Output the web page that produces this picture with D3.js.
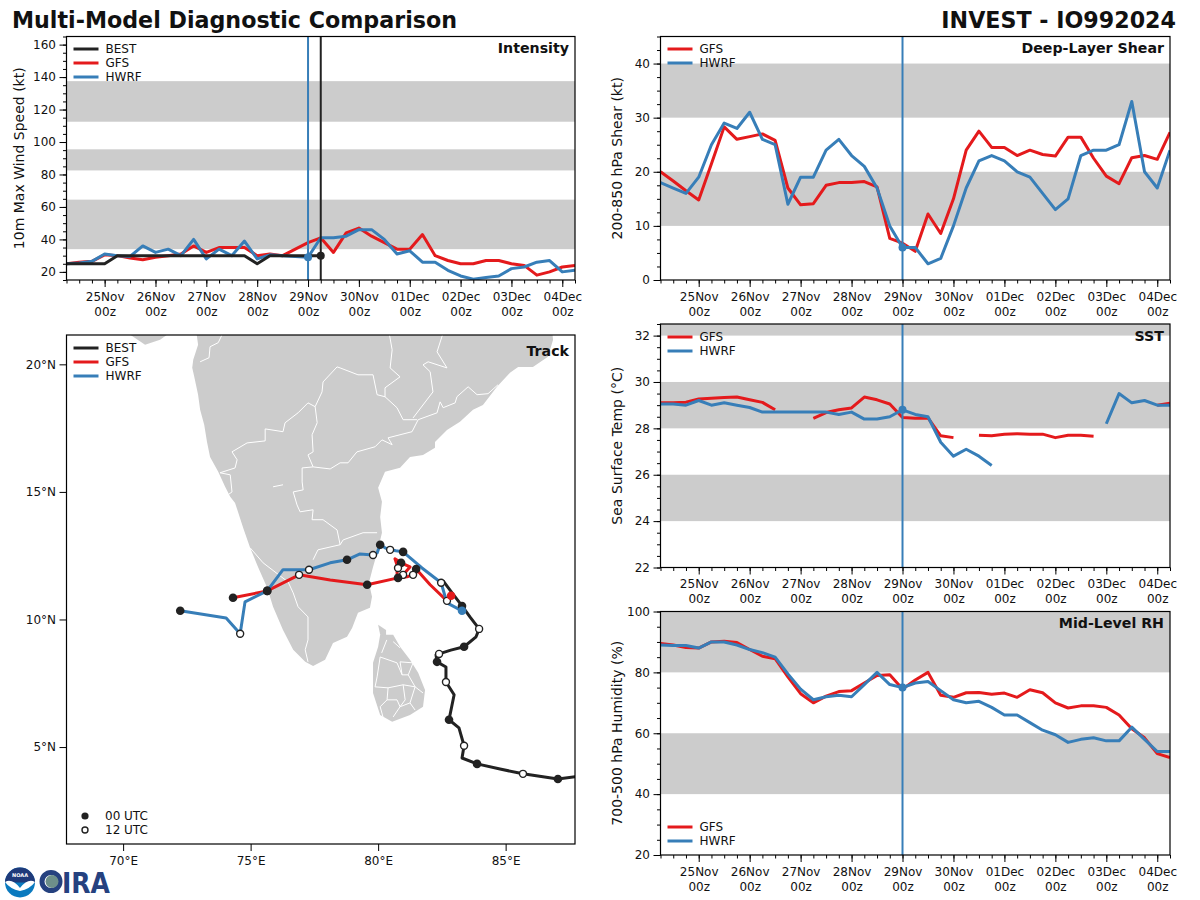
<!DOCTYPE html>
<html><head><meta charset="utf-8">
<script src="https://cdn.jsdelivr.net/npm/d3@7"></script>
<style>
html,body{margin:0;padding:0;background:#fff}
svg{display:block}
text{font-family:"DejaVu Sans",sans-serif;fill:#111}
.tick text{font-size:12px}
</style></head><body><svg id="c" width="1200" height="900"></svg>
<script>
const titleLeft="Multi-Model Diagnostic Comparison", titleRight="INVEST - IO992024";
const dayLabels=["25Nov","26Nov","27Nov","28Nov","29Nov","30Nov","01Dec","02Dec","03Dec","04Dec"];
const t0=Date.UTC(2024,10,24,6), H6=6*3600e3;
const bestWind=[25,25,25,25,30,30,30,30,30,30,30,30,30,30,30,25,30,30,30,30,30];
const gfsWind=[25,26,26.5,30.5,30,28.5,27.5,29,30,31,36,32,35,35,35,30,31,30,34,38,41,32,44,47,42,38,34,34,43,30,27,25,25,27,27,25,24,18,20,23,24];
const hwrfWind=[25,25.5,26.5,31,30,29.5,36,32,34,30,40,28,34,30,39,28,30.5,30,29.5,29,41,41,42,46,46,40,31,33,26,26,21,17.5,15.5,16.5,17.5,22,23,26,27,20,21];
const gfsShear=[20,18.3,16.5,14.8,21.5,28.3,26,26.5,27,25.8,17,13.9,14.1,17.5,18,18,18.2,17.2,7.7,6.8,5.3,12.2,8.6,15,24,27.5,24.5,24.5,23,24,23.2,22.9,26.4,26.4,22.5,19.2,17.8,22.6,23,22.3,27.3];
const hwrfShear=[18,17,16,19,25,29,28,31,26,25,14,19,19,24,26,23,21,17,10,6,6,3,4,10,17,22,23,22,20,19,16,13,15,23,24,24,25,33,20,17,24];
const gfsSst=[29.1,29.1,29.13,29.27,29.3,29.33,29.35,29.23,29.12,28.8,null,null,28.43,28.68,28.8,28.88,29.35,29.23,29.05,28.47,28.44,28.45,27.68,27.6,null,27.7,27.68,27.75,27.77,27.75,27.75,27.6,27.7,27.7,27.66,null,null,null,null,29.0,29.08];
const hwrfSst=[29.05,29.05,29.0,29.2,29.0,29.1,29.0,28.9,28.7,28.7,28.7,28.7,28.7,28.7,28.6,28.7,28.4,28.4,28.5,28.8,28.6,28.5,27.4,26.8,27.1,26.8,26.4,null,null,null,null,null,null,null,null,28.2,29.5,29.1,29.2,29.0,29.0];
const gfsRh=[89.5,89,88.2,88,90,90.2,89.8,87.5,85.3,84.5,78.5,73,70,72.2,73.7,74,76.5,79,79.2,74.5,77.5,80,72.5,71.8,73.3,73.4,72.8,73.2,71.8,74.3,73.3,70,68.3,69,69,68.5,66,61.5,58.5,53.3,52];
const hwrfRh=[89,88.8,88.8,88,90,90,89,87.5,86.5,85,79.5,74.5,71,72,72.5,72,76,80,76,75,76.5,77,74,71,70,70.5,68.5,66,66,63.5,61,59.5,57,58,58.5,57.5,57.5,62,58,54,54];
const windBands=[[34,64.5],[82.5,95.5],[112.5,137.5]], shearBands=[[10,20],[30,40]], sstBands=[[24,26],[28,30],[32,33]], rhBands=[[40,60],[80,100]];

// track: [lon, lat, utc] with utc 0 = 00 UTC marker, 12 = 12 UTC marker, null = none
const bestTrack=[[88.31,3.91,null],[87.05,3.75,0],[85.68,3.95,12],[84.78,4.14,null],[83.88,4.34,0],[83.29,4.57,null],[83.37,5.05,12],[83.17,5.75,null],[82.78,6.07,0],[82.98,7.05,null],[82.66,7.55,12],[82.66,8.14,null],[82.31,8.34,0],[82.27,8.61,null],[82.39,8.65,12],[82.85,8.8,null],[83.37,8.93,0],[83.84,9.32,null],[83.96,9.63,12],[83.60,10.10,null],[83.29,10.53,0],[82.90,11.04,null],[82.55,11.51,null]];
const gfsTrack=[[82.70,10.73,12],[82.04,11.36,null],[81.49,11.98,0],[81.53,11.87,null],[81.37,11.75,12],[81.13,11.67,null],[80.78,11.63,null],[80.86,11.71,null],[80.98,11.75,12],[81.25,12.06,null],[80.90,12.22,0],[80.66,12.38,null],[80.78,12.02,12],[80.74,11.83,null],[80.78,11.63,0],[79.57,11.36,0],[78.12,11.55,null],[76.90,11.75,12],[75.65,11.12,0],[74.31,10.85,0]];
const gfsStart=[82.86,10.93];
const hwrfTrack=[[83.29,10.34,null],[82.70,10.65,null],[82.47,11.44,12],[81.72,12.02,null],[80.98,12.65,0],[80.70,12.69,null],[80.47,12.73,12],[80.27,12.81,null],[80.08,12.93,0],[79.96,12.61,null],[79.80,12.53,12],[79.29,12.57,null],[78.78,12.34,0],[78.12,12.22,null],[77.29,11.95,12],[76.27,11.95,null],[75.65,11.12,0],[74.78,10.69,null],[74.59,9.44,12],[74.04,10.06,null],[72.24,10.34,0]];

const landIndia=[[72.86,21.35],[72.94,20.77],[72.75,20.18],[72.71,19.87],[72.79,19.51],[72.94,18.81],[73.02,18.22],[73.18,17.63],[73.29,16.96],[73.41,16.37],[73.73,15.79],[74.00,15.20],[74.20,14.81],[74.39,14.57],[74.71,13.59],[74.98,12.81],[75.29,12.06],[75.65,11.24],[75.88,10.50],[76.27,9.59],[76.67,8.81],[77.14,8.34],[77.45,8.18],[77.92,8.42],[78.23,9.08],[78.78,9.32],[78.98,9.67],[79.21,10.26],[79.68,10.46],[79.76,10.89],[79.64,11.44],[79.80,12.06],[79.96,12.61],[80.15,13.40],[80.08,14.02],[80.15,14.61],[80.00,15.16],[80.27,15.79],[80.86,15.95],[81.25,16.37],[81.76,16.45],[82.23,16.73],[82.23,16.96],[82.70,17.43],[83.21,17.75],[83.72,18.22],[84.11,18.41],[84.66,19.12],[85.17,19.67],[85.49,19.90],[86.07,19.90],[86.66,20.30],[86.86,20.96],[86.82,21.35]];
const landGujarat=[[70.08,21.3],[70.28,21.16],[70.86,20.77],[71.45,20.96],[71.92,21.3]];
const landLanka=[[80.08,9.40],[80.59,9.40],[80.86,8.93],[81.25,8.42],[81.57,7.91],[81.84,7.24],[81.76,6.58],[81.25,6.26],[80.55,5.99],[80.08,6.26],[79.80,7.12],[79.80,8.30],[80.00,8.93]];
const landJaffna=[[80.00,9.79],[80.31,9.59],[80.31,9.36],[80.08,9.40]];
const borders=[
[[73.88,21.16],[73.73,20.85],[73.41,20.69],[73.37,20.26],[73.02,20.10]],
[[73.80,15.75],[74.39,15.94],[74.47,16.26],[74.27,16.57],[74.86,16.92],[75.57,17.00],[75.57,17.47],[76.27,17.36],[76.35,17.71],[76.86,18.10],[77.25,18.49],[77.53,18.34]],
[[73.80,15.75],[74.20,15.67],[74.27,15.00],[74.12,14.89]],
[[77.53,18.34],[77.80,18.92],[77.84,19.31],[78.39,19.90],[78.51,19.86],[79.21,19.59],[79.80,19.59],[79.96,18.81],[80.27,18.73],[80.74,18.30],[80.98,17.83],[81.53,17.83]],
[[77.53,18.34],[77.61,17.71],[77.41,17.24],[77.45,16.57],[77.25,16.45],[77.45,15.98]],
[[77.02,15.94],[77.45,15.98],[78.12,15.90],[78.51,16.14],[78.82,16.14],[79.17,16.57],[79.88,16.77],[80.15,17.04],[80.55,16.85],[80.39,17.12],[81.33,17.36],[81.57,17.83],[82.31,18.10],[82.43,18.53],[82.55,18.30],[83.02,18.49],[83.09,18.73],[83.53,19.12],[83.88,18.81],[84.31,18.85],[84.70,19.20]],
[[80.27,18.73],[80.27,19.08],[80.86,19.51],[80.47,19.86],[80.55,20.57],[80.43,21.24]],
[[81.37,17.90],[82.15,18.92],[82.04,19.71],[81.76,19.98],[81.96,20.10],[82.70,19.86],[82.31,20.49],[82.55,21.24]],
[[77.02,15.94],[77.02,15.39],[77.06,15.08],[76.67,15.00],[76.82,14.49],[76.94,14.22],[77.45,14.30],[77.41,13.91],[77.84,13.91],[78.39,13.51],[78.51,12.93],[78.63,13.12],[79.41,13.40],[79.96,13.40]],
[[78.51,12.93],[77.64,12.73],[77.45,12.34]],
[[74.98,12.81],[75.49,12.22],[76.47,11.47],[76.67,11.04],[76.86,10.50],[77.25,10.10],[77.25,9.20],[77.14,8.81],[77.25,8.34]],
[[75.88,15.20],[76.27,15.28]],
[[80.34,9.20],[80.14,8.69]],[[80.59,9.13],[80.86,8.89]],
[[80.74,8.30],[80.08,8.53],[79.96,7.75],[79.88,7.36]],
[[80.74,8.30],[80.94,7.83],[80.86,8.34],[81.37,8.30],[81.18,7.83],[80.94,7.83]],
[[79.88,7.36],[80.39,7.32],[80.35,6.85],[80.08,6.58],[80.19,6.18]],
[[80.39,7.32],[80.98,7.44],[81.45,7.36],[81.25,6.73],[80.86,6.58],[80.59,6.18]],
[[80.86,6.58],[80.74,6.85],[80.35,6.85]],
[[81.18,7.83],[81.45,7.36],[81.76,7.12]],
[[80.98,7.44],[81.06,6.85],[80.86,6.58]],
[[81.25,6.73],[81.45,6.45]]
];
const RED="#e41a1c", BLUE="#377eb8", BLK="#222222", BAND="#cccccc";

const svg=d3.select("#c");
const nowT=t0+19*H6, bestEndT=t0+20*H6;
const dayTicks=d3.range(10).map(i=>t0+3*H6+i*4*H6);
const minorTicks=d3.range(41).map(i=>t0+i*H6);
const fmtDay=d3.scaleOrdinal().domain(dayTicks).range(dayLabels);

function legend(g,x,y0,items,dy=14){
  items.forEach((it,i)=>{
    const y=y0+i*dy;
    g.append("line").attr("x1",x+7).attr("x2",x+32).attr("y1",y).attr("y2",y).attr("stroke",it[1]).attr("stroke-width",3);
    g.append("text").attr("x",x+39).attr("y",y+4).attr("font-size",12).text(it[0]);
  });
}
let clipN=0;
function panel(o){
  const {l,r,t,b,domain,major,minor,bands,ylabel,name,series,lines,legendY,labelX}=o;
  const x=d3.scaleUtc().domain([t0,t0+40*H6]).range([l,r]);
  const y=d3.scaleLinear().domain(domain).range([b,t]);
  const g=svg.append("g");
  const id="clip"+(clipN++);
  g.append("clipPath").attr("id",id).append("rect").attr("x",l).attr("y",t).attr("width",r-l).attr("height",b-t);
  const body=g.append("g").attr("clip-path",`url(#${id})`);
  body.selectAll("rect.band").data(bands).join("rect").attr("class","band")
    .attr("x",l).attr("width",r-l).attr("y",d=>y(d[1])).attr("height",d=>y(d[0])-y(d[1])).attr("fill",BAND);
  const line=d3.line().defined(d=>d!=null).x((d,i)=>x(t0+i*H6)).y(d=>y(d));
  series.forEach(s=>{
    body.append("path").attr("d",line(s.v)).attr("fill","none").attr("stroke",s.c).attr("stroke-width",3).attr("stroke-linejoin","round");
  });
  lines.forEach(s=>{
    body.append("line").attr("x1",x(s.t)).attr("x2",x(s.t)).attr("y1",t).attr("y2",b).attr("stroke",s.c).attr("stroke-width",2);
  });
  series.forEach(s=>{
    if(s.dot!=null) body.append("circle").attr("cx",x(t0+s.dot*H6)).attr("cy",y(s.v[s.dot])).attr("r",4).attr("fill",s.c);
  });
  // axes
  g.append("g").attr("transform",`translate(0,${b})`).call(d3.axisBottom(x).tickValues(minorTicks).tickSize(3.5).tickFormat("")).call(a=>a.select(".domain").remove());
  const ax=g.append("g").attr("transform",`translate(0,${b})`).call(d3.axisBottom(x).tickValues(dayTicks).tickSize(7).tickPadding(5).tickFormat(d=>fmtDay(+d)));
  ax.select(".domain").remove();
  ax.selectAll(".tick text").each(function(){
    const tx=d3.select(this), s=tx.text();
    tx.text(null);
    tx.append("tspan").attr("x",0).attr("dy","0.71em").text(s);
    tx.append("tspan").attr("x",0).attr("dy","1.28em").text("00z");
  }).attr("dy",null);
  g.append("g").attr("transform",`translate(${l},0)`).call(d3.axisLeft(y).tickValues(minor).tickSize(3.5).tickFormat("")).call(a=>a.select(".domain").remove());
  const ay=g.append("g").attr("transform",`translate(${l},0)`).call(d3.axisLeft(y).tickValues(major).tickSize(7).tickPadding(3.5));
  ay.select(".domain").remove();
  g.append("rect").attr("x",l).attr("y",t).attr("width",r-l).attr("height",b-t).attr("fill","none").attr("stroke","#000").attr("stroke-width",1.2);
  g.append("text").attr("transform",`translate(${labelX},${(t+b)/2}) rotate(-90)`).attr("text-anchor","middle").attr("font-size",14).text(ylabel);
  g.append("text").attr("x",r-6).attr("y",t+16.5).attr("text-anchor","end").attr("font-size",14.2).attr("font-weight","bold").text(name);
  legend(g,l,legendY,o.legend);
}
const lgm=[["GFS",RED],["HWRF",BLUE]];
panel({l:66.5,r:575,t:36.5,b:280,domain:[15,165],major:d3.range(20,161,20),minor:d3.range(15,166,5),bands:windBands,ylabel:"10m Max Wind Speed (kt)",name:"Intensity",labelX:24,
  series:[{v:gfsWind,c:RED},{v:hwrfWind,c:BLUE,dot:19},{v:bestWind,c:BLK,dot:20}],lines:[{t:nowT,c:BLUE},{t:bestEndT,c:BLK}],legendY:49,legend:[["BEST",BLK],...lgm]});
panel({l:660.5,r:1170,t:36.5,b:280,domain:[0,45],major:d3.range(0,41,10),minor:d3.range(0,46,2.5),bands:shearBands,ylabel:"200-850 hPa Shear (kt)",name:"Deep-Layer Shear",labelX:622,
  series:[{v:gfsShear,c:RED},{v:hwrfShear,c:BLUE,dot:19}],lines:[{t:nowT,c:BLUE}],legendY:49,legend:lgm});
panel({l:660.5,r:1170,t:324,b:567.5,domain:[22,32.5],major:d3.range(22,33,2),minor:d3.range(22,32.6,0.5),bands:sstBands,ylabel:"Sea Surface Temp (°C)",name:"SST",labelX:622,
  series:[{v:gfsSst,c:RED},{v:hwrfSst,c:BLUE,dot:19}],lines:[{t:nowT,c:BLUE}],legendY:337,legend:lgm});
panel({l:660.5,r:1170,t:611.5,b:855,domain:[20,100],major:d3.range(20,101,20),minor:d3.range(20,101,5),bands:rhBands,ylabel:"700-500 hPa Humidity (%)",name:"Mid-Level RH",labelX:622,
  series:[{v:gfsRh,c:RED},{v:hwrfRh,c:BLUE,dot:19}],lines:[{t:nowT,c:BLUE}],legendY:827,legend:lgm});

// Track panel
(function(){
  const l=66.5,r=575,t=335,b=844;
  const x=d3.scaleLinear().domain([67.78,87.72]).range([l,r]);
  const y=d3.scaleLinear().domain([1.2,21.15]).range([b,t]);
  const g=svg.append("g");
  g.append("clipPath").attr("id","clipT").append("rect").attr("x",l).attr("y",t).attr("width",r-l).attr("height",b-t);
  const body=g.append("g").attr("clip-path","url(#clipT)");
  const ln=d3.line().x(d=>x(d[0])).y(d=>y(d[1]));
  [landIndia,landGujarat,landLanka,landJaffna].forEach(p=>body.append("path").attr("d",ln(p)+"Z").attr("fill",BAND));
  borders.forEach(p=>body.append("path").attr("d",ln(p)).attr("fill","none").attr("stroke","#fff").attr("stroke-width",1));
  const tracks=[[gfsTrack,RED],[bestTrack,BLK],[hwrfTrack,BLUE]];
  tracks.forEach(([tr,c])=>body.append("path").attr("d",ln(tr)).attr("fill","none").attr("stroke",c).attr("stroke-width",3).attr("stroke-linejoin","round"));
  body.append("path").attr("d",ln([gfsStart,gfsTrack[0]])).attr("fill","none").attr("stroke",RED).attr("stroke-width",3);
  tracks.forEach(([tr])=>body.selectAll(null).data(tr.filter(d=>d[2]!=null)).join("circle")
    .attr("cx",d=>x(d[0])).attr("cy",d=>y(d[1]))
    .attr("r",d=>d[2]===0?4.3:3.5)
    .attr("fill",d=>d[2]===0?BLK:"#fff")
    .attr("stroke",BLK).attr("stroke-width",d=>d[2]===0?0:1.4));
  body.append("circle").attr("cx",x(gfsStart[0])).attr("cy",y(gfsStart[1])).attr("r",4.3).attr("fill",RED);
  body.append("circle").attr("cx",x(hwrfTrack[0][0])).attr("cy",y(hwrfTrack[0][1])).attr("r",4.3).attr("fill",BLUE);
  const ax=g.append("g").attr("transform",`translate(0,${b})`).call(d3.axisBottom(x).tickValues([70,75,80,85]).tickSize(7).tickPadding(5).tickFormat(d=>d+"°E"));
  ax.select(".domain").remove();
  const ay=g.append("g").attr("transform",`translate(${l},0)`).call(d3.axisLeft(y).tickValues([5,10,15,20]).tickSize(7).tickPadding(3.5).tickFormat(d=>d+"°N"));
  ay.select(".domain").remove();
  g.append("rect").attr("x",l).attr("y",t).attr("width",r-l).attr("height",b-t).attr("fill","none").attr("stroke","#000").attr("stroke-width",1.2);
  g.append("text").attr("x",r-6).attr("y",t+21).attr("text-anchor","end").attr("font-size",14.2).attr("font-weight","bold").text("Track");
  legend(g,l,348,[["BEST",BLK],...lgm]);
  [["00 UTC",0],["12 UTC",12]].forEach((k,i)=>{
    const yy=816+i*14;
    g.append("circle").attr("cx",85).attr("cy",yy).attr("r",k[1]===0?3.6:3).attr("fill",k[1]===0?BLK:"#fff").attr("stroke",BLK).attr("stroke-width",k[1]===0?0:1.4);
    g.append("text").attr("x",105).attr("y",yy+4).attr("font-size",12).text(k[0]);
  });
})();

svg.append("text").attr("x",12).attr("y",28).attr("font-size",22.2).attr("font-weight","bold").text(titleLeft);
svg.append("text").attr("x",1176).attr("y",28).attr("text-anchor","end").attr("font-size",22.2).attr("font-weight","bold").text(titleRight);

// logos
const logo=svg.append("g");
logo.append("circle").attr("cx",20).attr("cy",882.5).attr("r",15).attr("fill","#0a7abf");
logo.append("path").attr("d",d3.arc()({innerRadius:0,outerRadius:15,startAngle:-Math.PI/2,endAngle:Math.PI/2})).attr("transform","translate(20,882.5)").attr("fill","#1f3a7a");
logo.append("path").attr("d","M5,882 Q12,878 20,888 Q28,878 35,882 Q30,889 20,891 Q10,889 5,882Z").attr("fill","#fff");
logo.append("text").attr("x",20).attr("y",877).attr("text-anchor","middle").attr("font-size",5).attr("font-weight","bold").style("fill","#fff").text("NOAA");
logo.append("circle").attr("cx",51).attr("cy",881.5).attr("r",9).attr("fill","none").attr("stroke","#25417f").attr("stroke-width",5);
logo.append("circle").attr("cx",52).attr("cy",881.5).attr("r",6.5).attr("fill","#6d8f8a");
logo.append("text").attr("x",62).attr("y",893).attr("font-size",29).attr("font-weight","bold").attr("font-family","Liberation Serif").style("fill","#25417f").attr("textLength",48).attr("lengthAdjust","spacingAndGlyphs").text("IRA");
</script></body></html>
